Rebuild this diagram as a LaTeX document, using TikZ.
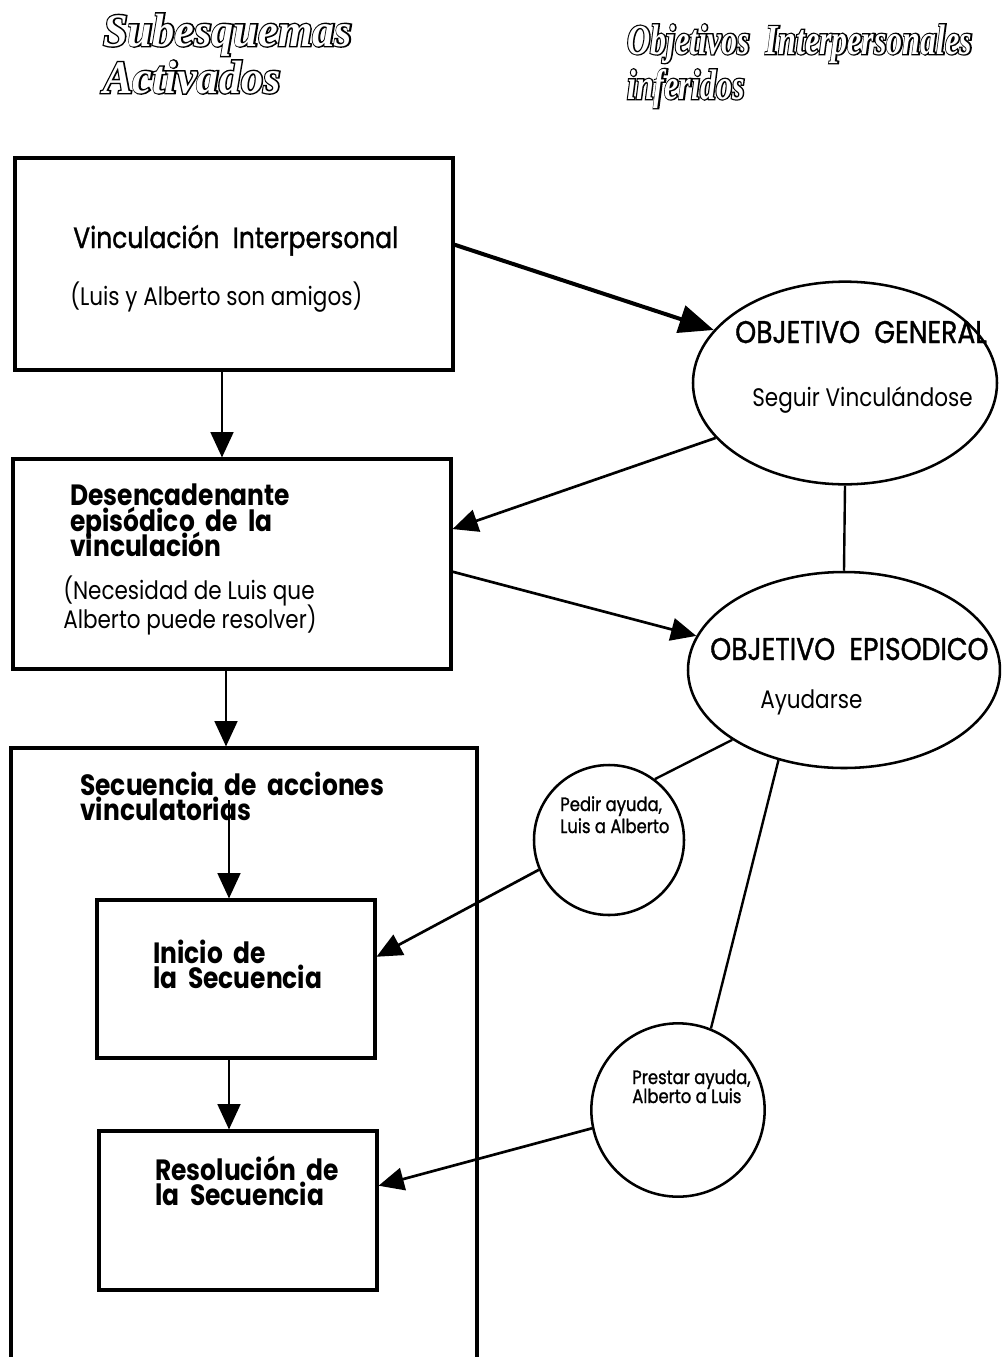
\documentclass[tikz,border=0pt]{standalone}
\usepackage{fontspec}
\setmainfont[FakeStretch=0.85]{Poppins}
\newfontfamily\medfont[FakeStretch=0.85,FakeBold=1.2]{Poppins}
\newfontfamily\hdrfont[FakeStretch=0.95]{Liberation Serif}
\newfontfamily\hdrfontB[FakeStretch=0.95,FakeBold=6]{Liberation Serif}
\newfontfamily\hdrfontN[FakeStretch=0.75]{Liberation Serif}
\newfontfamily\hdrfontNB[FakeStretch=0.75,FakeBold=6]{Liberation Serif}
\usetikzlibrary{arrows.meta,shapes.geometric}
\tikzset{
  box/.style={draw, line width=2.3pt, rectangle, inner sep=0pt},
  ell/.style={draw, line width=1.9pt, ellipse, inner sep=0pt},
  circ/.style={draw, line width=1.9pt, circle, inner sep=0pt},
  arr/.style={line width=2pt, -{Triangle[length=19pt,width=17pt]}},
  bigarr/.style={line width=3pt, -{Triangle[length=26pt,width=21pt]}},
  con/.style={line width=1.8pt},
  txt/.style={anchor=base west, inner sep=0pt},
  ttl/.style={txt, font=\medfont\fontsize{22}{22}\selectfont},
  sub/.style={txt, font=\fontsize{19}{19}\selectfont},
  bld/.style={txt, font=\fontsize{22}{22}\selectfont\bfseries},
  captxt/.style={txt, font=\medfont\fontsize{23.5}{24}\selectfont},
  sml/.style={txt, font=\medfont\fontsize{14.5}{15}\selectfont},
  hdrback/.style={anchor=base west, inner sep=0pt, font=\hdrfontB\fontsize{35}{35}\selectfont\bfseries\itshape},
  hdrfront/.style={anchor=base west, inner sep=0pt, text=white, font=\hdrfont\fontsize{35}{35}\selectfont\bfseries\itshape},
  hdrbackN/.style={anchor=base west, inner sep=0pt, font=\hdrfontNB\fontsize{32}{32}\selectfont\bfseries\itshape},
  hdrfrontN/.style={anchor=base west, inner sep=0pt, text=white, font=\hdrfontN\fontsize{32}{32}\selectfont\bfseries\itshape},
}
\begin{document}
\begin{tikzpicture}[x=0.75pt,y=-0.75pt]
\clip (0,0) rectangle (1001,1357);
\fill[white] (0,0) rectangle (1001,1357);
% headers (outlined look)
\node[hdrback] (h1a) at (103,46) {Subesquemas};
\node[hdrfront] (h1af) at (103,46) {Subesquemas};
\node[hdrback] (h1b) at (103,93) {Activados};
\node[hdrfront] (h1bf) at (103,93) {Activados};
\node[hdrbackN] (h2a) at (627,54) {Objetivos\ \ Interpersonales};
\node[hdrfrontN] (h2af) at (627,54) {Objetivos\ \ Interpersonales};
\node[hdrbackN] (h2b) at (627,99) {inferidos};
\node[hdrfrontN] (h2bf) at (627,99) {inferidos};
% boxes
\node[box, minimum width=328.5pt, minimum height=159pt] (b1) at (234,264) {};
\node[box, minimum width=328.5pt, minimum height=157.5pt] (b2) at (232,564) {};
\node[box, minimum width=349.5pt, minimum height=489pt] (b3) at (244,1074) {};
\node[box, minimum width=208.5pt, minimum height=118.5pt] (b4) at (236,979) {};
\node[box, minimum width=208.5pt, minimum height=119.25pt] (b5) at (238,1210.5) {};
% box texts
\node[ttl] (t1) at (73,248) {Vinculación\ \ Interpersonal};
\node[sub] (t1b) at (70,305) {(Luis y Alberto son amigos)};
\node[bld] (t2a) at (70,505) {Desencadenante};
\node[bld] (t2b) at (70,531) {episódico\ \ de\ \ la};
\node[bld] (t2c) at (70,556) {vinculación};
\node[sub] (t2d) at (63,599) {(Necesidad de Luis que};
\node[sub] (t2e) at (63,628) {Alberto puede resolver)};
\node[bld] (t3a) at (80,795) {Secuencia\ \ de\ \ acciones};
\node[bld] (t3b) at (80,820) {vinculatorias};
\node[bld] (t4a) at (153,963) {Inicio\ \ de};
\node[bld] (t4b) at (153,988) {la\ \ Secuencia};
\node[bld] (t5a) at (155,1180) {Resolución\ \ de};
\node[bld] (t5b) at (155,1205) {la\ \ Secuencia};
% ellipses and circles
\node[ell, minimum width=228pt, minimum height=152pt] (e1) at (845,383) {};
\node[ell, minimum width=234pt, minimum height=147pt] (e2) at (844,670) {};
\node[circ, minimum size=112.5pt] (c1) at (609,840) {};
\node[circ, minimum size=130pt] (c2) at (678,1110) {};
\node[captxt] (te1) at (735,343) {OBJETIVO\ \ GENERAL};
\node[sub] (te1b) at (752,406) {Seguir Vinculándose};
\node[captxt] (te2) at (710,660) {OBJETIVO\ \ EPISODICO};
\node[sub] (te2b) at (760,708) {Ayudarse};
\node[sml] (tc1a) at (560,811) {Pedir ayuda,};
\node[sml] (tc1b) at (560,833) {Luis a Alberto};
\node[sml] (tc2a) at (632,1084) {Prestar ayuda,};
\node[sml] (tc2b) at (632,1103) {Alberto a Luis};
% vertical arrows
\draw[arr] ([xshift=-9pt]b1.south) -- ([xshift=-7.5pt]b2.north);
\draw[arr] ([xshift=-4.5pt]b2.south) -- ([xshift=-13.5pt]b3.north);
\coordinate (s3) at (229,800);
\draw[arr] (s3) -- ([xshift=-5.25pt]b4.north);
\draw[arr] ([xshift=-5.25pt]b4.south) -- ([xshift=-6.75pt]b5.north);
% diagonal arrows
\draw[bigarr] (b1.5) -- (e1.158);
\draw[arr] (e1.203) -- (b2.9);
\draw[arr] (b2.-2) -- (e2.167);
\draw[arr] (c1.203) -- (b4.9);
\draw[arr] (c2.192) -- (b5.10);
% plain connectors
\draw[con] (e1.south) -- (e2.north);
\draw[con] (e2.212) -- (c1.53);
\draw[con] (e2.-126) -- (c2.68);
\end{tikzpicture}
\end{document}
